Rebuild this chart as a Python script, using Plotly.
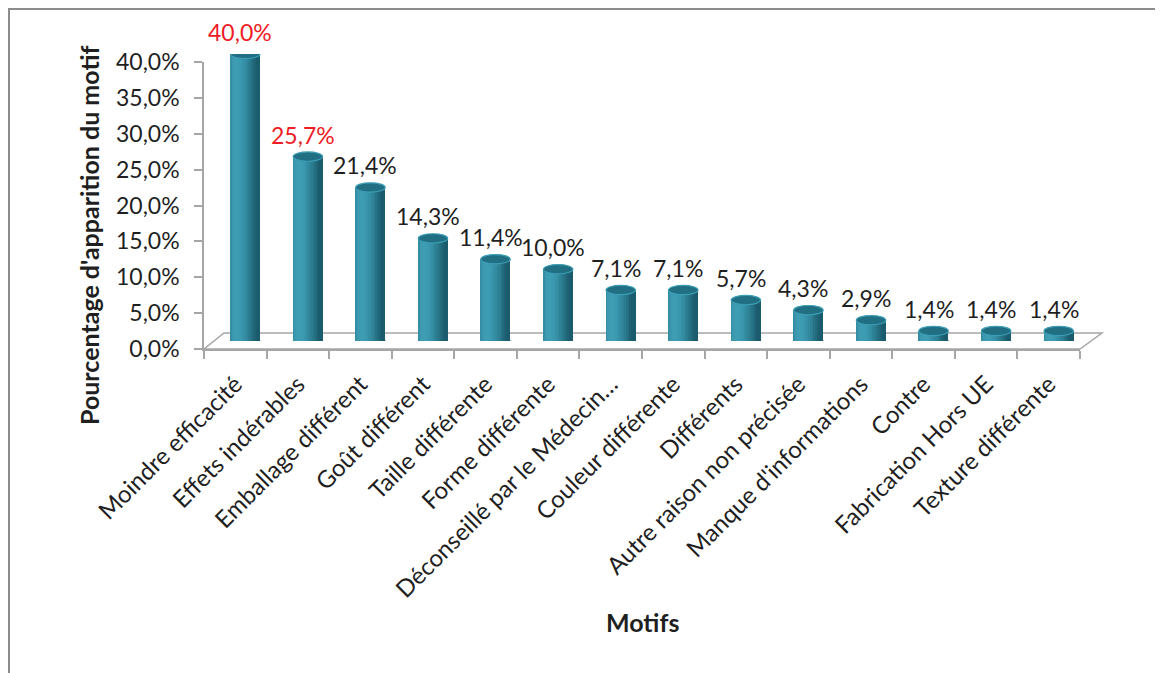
import math
import plotly.graph_objects as go

# ── Data ──────────────────────────────────────────────────────────────────────
categories = [
    "Moindre efficacité", "Effets indérables", "Emballage différent",
    "Goût différent", "Taille différente", "Forme différente",
    "Déconseillé par le Médecin…", "Couleur différente", "Différents",
    "Autre raison non précisée", "Manque d'informations", "Contre",
    "Fabrication Hors UE", "Texture différente",
]
values = [40.0, 25.7, 21.4, 14.3, 11.4, 10.0, 7.1, 7.1, 5.7, 4.3, 2.9, 1.4, 1.4, 1.4]
highlight = [True, True] + [False] * 12          # labels drawn in red
y_ticks = [0, 5, 10, 15, 20, 25, 30, 35, 40]
y_tick_text = [f"{t:.1f}%".replace(".", ",") for t in y_ticks]

# ── Geometry (reference pixels) ───────────────────────────────────────────────
W_PX, H_PX = 1163, 673
OFF = 8                    # page body margin in the browser
L, PW = 204, 900           # plot area left / width
T, PH = 46, 303            # plot area top / height
FRONT_W = 876              # front plane width
FRONT_H = 287              # front plane height (0..40 %)
DX, DY = 10, 8             # half depth shift (bars sit mid-depth)
BAR_W = 0.47               # cylinder width in category units
CAP_H = 0.65               # half height of the ellipse caps, in % units

FONT = "Lato"
AXIS_GRAY = "#a6a6a6"
TXT = "#1f1f1f"


def px_x(p):
    return (p - L) / PW


def px_y(p):
    return (T + PH - p) / PH


def shade(u):
    """Colour of a vertical strip at u in [-1, 1] across the cylinder."""
    phi = math.asin(max(-1.0, min(1.0, u)))
    light = math.radians(-35)
    k = max(0.0, math.cos(phi - light))
    dark, bright = (20, 80, 97), (62, 158, 180)
    t = 0.15 + 0.85 * k ** 1.4
    r, g, b = (int(d + (b_ - d) * t) for d, b_ in zip(dark, bright))
    return f"rgb({r},{g},{b})"


fig = go.Figure()

# invisible trace to carry the front category axis
fig.add_trace(go.Scatter(
    x=categories, y=values, mode="markers", marker=dict(opacity=0),
    hoverinfo="skip", showlegend=False, xaxis="x", yaxis="y",
))

# ── Cylinder bodies: thin overlaid strips for the shading ─────────────────────
N = 16
sw = BAR_W / N
for k in range(N):
    u = -1 + (2 * k + 1) / N
    fig.add_trace(go.Bar(
        x=categories, y=values, xaxis="x2", yaxis="y2",
        width=sw * 1.08, offset=-BAR_W / 2 + k * sw,
        marker=dict(color=shade(u), line=dict(width=0)),
        hoverinfo="skip", showlegend=False,
    ))

shapes = []

# 3D floor
shapes.append(dict(
    type="path", xref="paper", yref="paper", layer="below",
    path=(f"M {px_x(L)},{px_y(349)} L {px_x(L + FRONT_W)},{px_y(349)} "
          f"L {px_x(L + FRONT_W + 2 * DX + 2)},{px_y(349 - 2 * DY)} "
          f"L {px_x(L + 2 * DX)},{px_y(349 - 2 * DY)} Z"),
    line=dict(color=AXIS_GRAY, width=1.5), fillcolor="white",
))

# outer frame (top and left edges visible)
shapes.append(dict(type="line", xref="paper", yref="paper",
                   x0=px_x(7), x1=px_x(W_PX + 5), y0=px_y(9), y1=px_y(9),
                   line=dict(color="#8c8c8c", width=2)))
shapes.append(dict(type="line", xref="paper", yref="paper",
                   x0=px_x(9), x1=px_x(9), y0=px_y(8), y1=px_y(H_PX + 5),
                   line=dict(color="#8c8c8c", width=2)))

# cylinder caps
for i, v in enumerate(values):
    shapes.append(dict(
        type="circle", xref="x2", yref="y2", layer="below",
        x0=i - BAR_W / 2, x1=i + BAR_W / 2, y0=-CAP_H, y1=CAP_H,
        fillcolor="#1f7287", line=dict(color="#1a6072", width=1),
    ))
    shapes.append(dict(
        type="circle", xref="x2", yref="y2", layer="above",
        x0=i - BAR_W / 2, x1=i + BAR_W / 2, y0=v - CAP_H, y1=v + CAP_H,
        fillcolor="#216f82", line=dict(color="#3c9db4", width=1.2),
    ))

# ── Data labels ───────────────────────────────────────────────────────────────
annotations = []
for c, v, red in zip(categories, values, highlight):
    annotations.append(dict(
        x=c, y=v, xref="x", yref="y", text=f"{v:.1f}%".replace(".", ","),
        showarrow=False, xshift=5, yshift=30,
        font=dict(family=FONT, size=23, color="#ee1c25" if red else TXT),
    ))

annotations.append(dict(
    text="<b>Pourcentage d'apparition du motif</b>", textangle=-90,
    xref="paper", yref="paper", x=px_x(89), y=px_y(236), showarrow=False,
    xanchor="center", yanchor="middle",
    font=dict(family=FONT, size=25, color=TXT),
))
annotations.append(dict(
    text="<b>Motifs</b>", xref="paper", yref="paper",
    x=px_x(642), y=px_y(622), showarrow=False,
    xanchor="center", yanchor="middle",
    font=dict(family=FONT, size=25, color=TXT),
))

fig.update_layout(
    width=W_PX - OFF, height=H_PX - OFF,
    margin=dict(l=L - OFF, r=W_PX - L - PW, t=T - OFF, b=H_PX - T - PH),
    paper_bgcolor="white", plot_bgcolor="rgba(0,0,0,0)",
    barmode="overlay", bargap=0, showlegend=False,
    font=dict(family=FONT, size=23, color=TXT),
    xaxis=dict(
        domain=[0, FRONT_W / PW], type="category", categoryarray=categories,
        range=[-0.5, len(categories) - 0.5], anchor="y",
        showline=True, linecolor=AXIS_GRAY, linewidth=1.5,
        ticks="outside", ticklen=8, tickcolor=AXIS_GRAY, tickwidth=1.5,
        tickson="boundaries", tickangle=-45, showgrid=False, zeroline=False,
        ticklabelstandoff=10,
        tickfont=dict(family=FONT, size=24, color=TXT),
    ),
    yaxis=dict(
        domain=[0, FRONT_H / PH], range=[0, 40], anchor="x",
        tickvals=y_ticks, ticktext=y_tick_text,
        showline=True, linecolor=AXIS_GRAY, linewidth=1.5,
        ticks="outside", ticklen=8, tickcolor=AXIS_GRAY, tickwidth=1.5,
        ticklabelstandoff=10, showgrid=False, zeroline=False,
        tickfont=dict(family=FONT, size=23, color=TXT),
    ),
    xaxis2=dict(
        domain=[DX / PW, (FRONT_W + DX) / PW], type="category",
        categoryarray=categories, range=[-0.5, len(categories) - 0.5],
        anchor="y2", visible=False,
    ),
    yaxis2=dict(
        domain=[DY / PH, (FRONT_H + DY) / PH], range=[0, 40],
        anchor="x2", visible=False,
    ),
    shapes=shapes,
    annotations=annotations,
)

fig.write_html("out.html")
